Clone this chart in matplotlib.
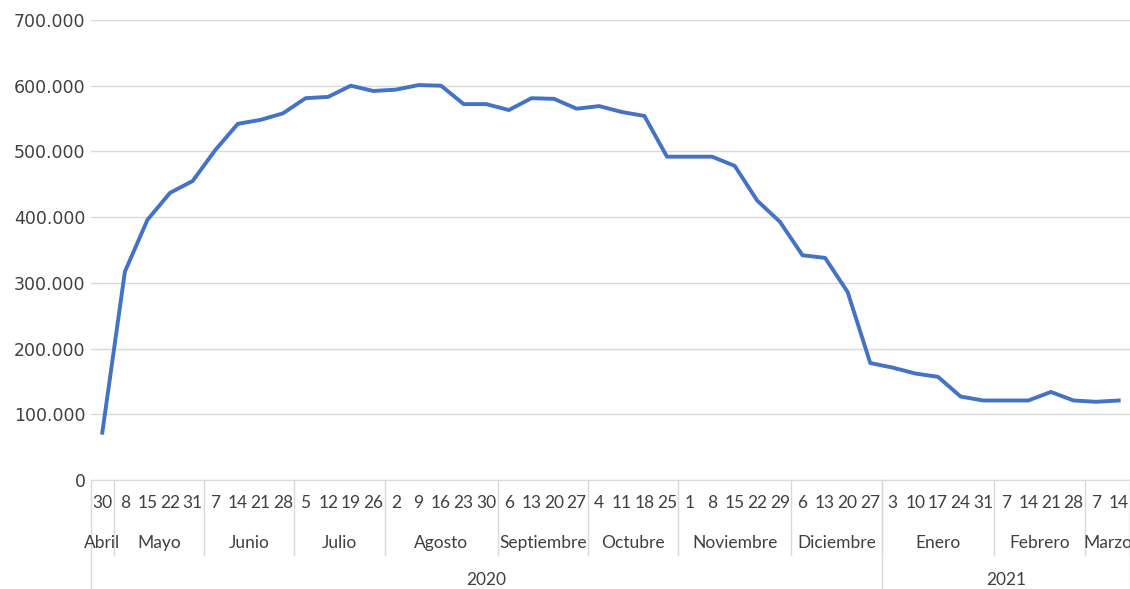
import matplotlib
matplotlib.use("Agg")
import matplotlib.pyplot as plt
from matplotlib.ticker import FuncFormatter

# weekly values, Apr 2020 - Mar 2021
days = [30,
        8, 15, 22, 31,
        7, 14, 21, 28,
        5, 12, 19, 26,
        2, 9, 16, 23, 30,
        6, 13, 20, 27,
        4, 11, 18, 25,
        1, 8, 15, 22, 29,
        6, 13, 20, 27,
        3, 10, 17, 24, 31,
        7, 14, 21, 28,
        7, 14]
months = ["Abril", "Mayo", "Junio", "Julio", "Agosto", "Septiembre", "Octubre",
          "Noviembre", "Diciembre", "Enero", "Febrero", "Marzo"]
month_counts = [1, 4, 4, 4, 5, 4, 4, 5, 4, 5, 4, 2]
years = ["2020", "2021"]
year_counts = [35, 11]
values = [72000,
          317000, 396000, 437000, 455000,
          502000, 542000, 548000, 558000,
          581000, 583000, 600000, 592000,
          594000, 601000, 600000, 572000, 572000,
          563000, 581000, 580000, 565000,
          569000, 560000, 554000, 492000,
          492000, 492000, 478000, 425000, 393000,
          342000, 338000, 286000, 178000,
          171000, 162000, 157000, 127000, 121000,
          121000, 121000, 134000, 121000,
          119000, 121000]

W, H = 1130, 589
fig = plt.figure(figsize=(W / 100, H / 100), dpi=100)
ax = fig.add_axes([91 / W, 1 - 480 / H, (1130 - 91) / W, 460 / H])

x = list(range(len(values)))
ax.plot(x, values, color="#4472C4", lw=2.8, solid_joinstyle="round", zorder=3)

ax.set_xlim(-0.5, len(values) - 0.5)
ax.set_ylim(0, 700000)
ax.set_yticks(range(0, 700001, 100000))
ax.yaxis.set_major_formatter(FuncFormatter(lambda v, p: f"{v:,.0f}".replace(",", ".")))
ax.tick_params(axis="y", length=0, pad=4, labelsize=12.5, labelcolor="#404040")
ax.set_xticks([])
ax.grid(axis="y", color="#d9d9d9", lw=1)
for s in ["top", "right", "left"]:
    ax.spines[s].set_visible(False)
ax.spines["bottom"].set_color("#d9d9d9")

tr = ax.get_xaxis_transform()
txt = dict(family="Lato", fontsize=12.5, color="#404040", ha="center", va="center")

# day row
for i, d in enumerate(days):
    ax.text(i, -0.05, str(d), transform=tr, clip_on=False, **txt)

# month row + separators
start = 0
for m, c in zip(months, month_counts):
    ax.text(start + (c - 1) / 2, -0.137, m, transform=tr, clip_on=False, **txt)
    start += c
    ax.plot([start - 0.5] * 2, [0, -0.163], transform=tr, clip_on=False,
            color="#d9d9d9", lw=1)

# year row + separators
start = 0
ax.plot([-0.5, -0.5], [0, -0.24], transform=tr, clip_on=False, color="#d9d9d9", lw=1)
for y, c in zip(years, year_counts):
    ax.text(start + (c - 1) / 2, -0.217, y, transform=tr, clip_on=False, **txt)
    start += c
    ax.plot([start - 0.5] * 2, [0, -0.24], transform=tr, clip_on=False,
            color="#d9d9d9", lw=1)

fig.savefig("out.png", dpi=100)
